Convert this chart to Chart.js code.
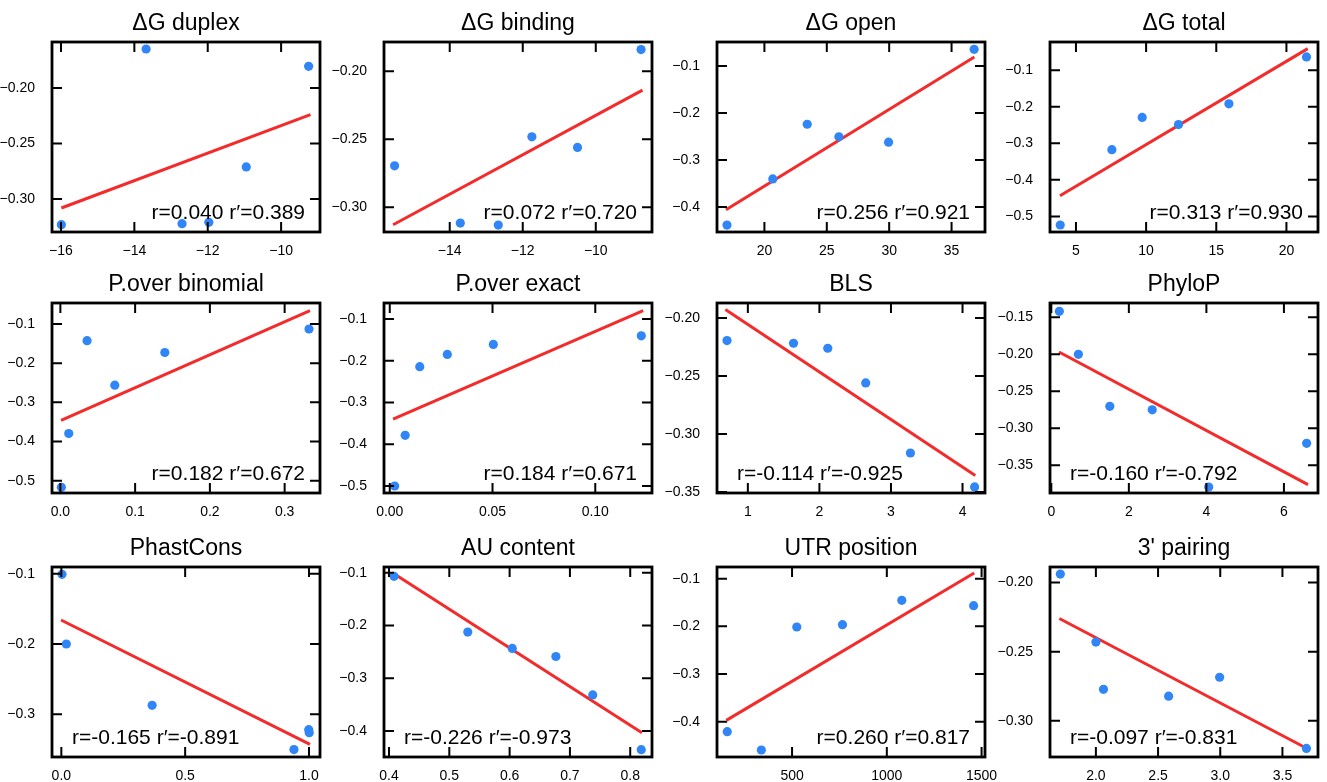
<!DOCTYPE html>
<html>
<head>
<meta charset="utf-8">
<script src="https://cdn.jsdelivr.net/npm/chart.js@4.4.1/dist/chart.umd.min.js"></script>
<style>
  html, body { margin: 0; padding: 0; background: #fff; }
  #grid { position: relative; width: 1327px; height: 782px; overflow: hidden; }
  #grid canvas { position: absolute; }
</style>
</head>
<body>
<div id="grid"></div>
<script>
// feature panels, row by row
const titles = [
  "ΔG duplex", "ΔG binding", "ΔG open", "ΔG total",
  "P.over binomial", "P.over exact", "BLS", "PhyloP",
  "PhastCons", "AU content", "UTR position", "3' pairing",
];

const pointX = [
  [-15.99, -13.68, -12.70, -11.97, -10.95, -9.25],
  [-15.51, -13.71, -12.67, -11.75, -10.50, -8.76],
  [17.0, 20.67, 23.43, 25.97, 29.95, 36.81],
  [3.88, 7.56, 9.72, 12.31, 15.90, 21.43],
  [0.0013, 0.0112, 0.0357, 0.0728, 0.1397, 0.3326],
  [0.0024, 0.0075, 0.0146, 0.0280, 0.0504, 0.1224],
  [0.709, 1.638, 2.117, 2.647, 3.272, 4.169],
  [0.207, 0.698, 1.509, 2.603, 4.06, 6.586],
  [0.0027, 0.0202, 0.3666, 0.9394, 0.999, 1.001],
  [0.4083, 0.5306, 0.6044, 0.6767, 0.7378, 0.8183],
  [158, 338, 525, 766, 1079, 1458],
  [1.714, 2.0, 2.061, 2.585, 2.995, 3.693],
];

const pointY = [
  [-0.3231, -0.1649, -0.3222, -0.3210, -0.2711, -0.1805],
  [-0.2696, -0.3117, -0.3132, -0.2483, -0.2561, -0.1841],
  [-0.4381, -0.3402, -0.2240, -0.2507, -0.2620, -0.0647],
  [-0.5236, -0.3173, -0.2291, -0.2486, -0.1918, -0.0636],
  [-0.5170, -0.3796, -0.1426, -0.2562, -0.1728, -0.1128],
  [-0.5000, -0.3786, -0.2143, -0.1849, -0.1611, -0.1405],
  [-0.2195, -0.2218, -0.2261, -0.2560, -0.3164, -0.3457],
  [-0.1419, -0.2000, -0.2703, -0.2750, -0.3793, -0.3203],
  [-0.1009, -0.2000, -0.2872, -0.3502, -0.3218, -0.3261],
  [-0.1069, -0.2126, -0.2436, -0.2589, -0.3316, -0.4354],
  [-0.4210, -0.4594, -0.2014, -0.1965, -0.1455, -0.1566],
  [-0.1938, -0.2430, -0.2772, -0.2822, -0.2685, -0.3200],
];

// regression line end points
const fitX = [
  [-15.99, -9.20], [-15.55, -8.72], [16.92, 36.83], [3.86, 21.52],
  [0.0009, 0.3339], [0.0016, 0.1233], [0.686, 4.178], [0.198, 6.621],
  [-0.0013, 1.004], [0.4083, 0.8194], [153, 1461], [1.706, 3.690],
];
const fitY = [
  [-0.3081, -0.2240], [-0.3130, -0.2139], [-0.4056, -0.0809], [-0.4436, -0.0409],
  [-0.3460, -0.0660], [-0.3397, -0.0802], [-0.1928, -0.3359], [-0.1968, -0.3761],
  [-0.1659, -0.3427], [-0.1019, -0.4032], [-0.3972, -0.0881], [-0.2260, -0.3197],
];

const corrLabels = [
  "r=0.040 r′=0.389", "r=0.072 r′=0.720", "r=0.256 r′=0.921", "r=0.313 r′=0.930",
  "r=0.182 r′=0.672", "r=0.184 r′=0.671", "r=-0.114 r′=-0.925", "r=-0.160 r′=-0.792",
  "r=-0.165 r′=-0.891", "r=-0.226 r′=-0.973", "r=0.260 r′=0.817", "r=-0.097 r′=-0.831",
];

const xLimits = [
  [-16.245, -8.94], [-15.80, -8.46], [16.20, 37.68], [3.15, 22.25],
  [-0.0112, 0.3473], [-0.0028, 0.1276], [0.569, 4.314], [-0.034, 6.879],
  [-0.0377, 1.0445], [0.3917, 0.8361], [104, 1518], [1.631, 3.786],
];
const yLimits = [
  [-0.3297, -0.1586], [-0.3183, -0.1785], [-0.4529, -0.0492], [-0.5427, -0.0227],
  [-0.5315, -0.0464], [-0.5167, -0.0619], [-0.3509, -0.1871], [-0.3874, -0.1306],
  [-0.3607, -0.0905], [-0.4493, -0.0893], [-0.4741, -0.0755], [-0.3262, -0.1887],
];

const xTicks = [
  [-16, -14, -12, -10], [-14, -12, -10], [20, 25, 30, 35], [5, 10, 15, 20],
  [0, 0.1, 0.2, 0.3], [0, 0.05, 0.1], [1, 2, 3, 4], [0, 2, 4, 6],
  [0, 0.5, 1], [0.4, 0.5, 0.6, 0.7, 0.8], [500, 1000, 1500], [2, 2.5, 3, 3.5],
];
const xDigits = [0, 0, 0, 0, 1, 2, 0, 0, 1, 1, 0, 1];

const yTicks = [
  [-0.30, -0.25, -0.20], [-0.30, -0.25, -0.20], [-0.4, -0.3, -0.2, -0.1], [-0.5, -0.4, -0.3, -0.2, -0.1],
  [-0.5, -0.4, -0.3, -0.2, -0.1], [-0.5, -0.4, -0.3, -0.2, -0.1], [-0.35, -0.30, -0.25, -0.20], [-0.35, -0.30, -0.25, -0.20, -0.15],
  [-0.3, -0.2, -0.1], [-0.4, -0.3, -0.2, -0.1], [-0.4, -0.3, -0.2, -0.1], [-0.30, -0.25, -0.20],
];
const yDigits = [2, 2, 1, 1, 1, 1, 2, 2, 1, 1, 1, 2];

// panel grid (plot box corners in page pixels)
const COL_LEFT = [52, 384, 717, 1050];
const ROW_TOP = [42, 303, 567];
const BOX_W = 268;
const BOX_H = 190;
const Y_AXIS_W = 52;
const TITLE_H = 42;
const X_AXIS_H = 28;

const BLUE = "#3086f6";
const RED = "#f42b2b";
const FONT = '"Liberation Sans", Arial, sans-serif';
const TICK_FONT = { family: FONT, size: 14 };

Chart.defaults.font.family = FONT;
Chart.defaults.font.size = 14;
Chart.defaults.color = "#000";

function fmt(v, digits) {
  return v.toFixed(digits).replace("-", "\u2212");
}

// closed frame, inward ticks on all four sides, and the r / r' note
const frameTicks = {
  id: "frameTicks",
  afterDatasetsDraw(chart, args, opts) {
    const { ctx, chartArea: a, scales: { x, y } } = chart;
    const len = 10;
    ctx.save();

    ctx.font = "21px " + FONT;
    ctx.fillStyle = "#000";
    ctx.textBaseline = "alphabetic";
    if (opts.side === "right") {
      ctx.textAlign = "right";
      ctx.fillText(opts.text, a.right - 15, a.bottom - 13.5);
    } else {
      ctx.textAlign = "left";
      ctx.fillText(opts.text, a.left + 20, a.bottom - 13.5);
    }

    ctx.strokeStyle = "#000";
    ctx.lineWidth = 2;
    ctx.beginPath();
    x.ticks.forEach((t) => {
      const px = x.getPixelForValue(t.value);
      ctx.moveTo(px, a.bottom);
      ctx.lineTo(px, a.bottom - len);
      ctx.moveTo(px, a.top);
      ctx.lineTo(px, a.top + len);
    });
    y.ticks.forEach((t) => {
      const py = y.getPixelForValue(t.value);
      ctx.moveTo(a.left, py);
      ctx.lineTo(a.left + len, py);
      ctx.moveTo(a.right, py);
      ctx.lineTo(a.right - len, py);
    });
    ctx.stroke();

    ctx.lineWidth = 2.8;
    ctx.strokeRect(a.left, a.top, a.right - a.left, a.bottom - a.top);
    ctx.restore();
  },
};

const grid = document.getElementById("grid");

titles.forEach((title, i) => {
  const row = Math.floor(i / 4);
  const col = i % 4;

  const canvas = document.createElement("canvas");
  canvas.width = Y_AXIS_W * 2 + BOX_W;
  canvas.height = TITLE_H + BOX_H + X_AXIS_H;
  canvas.style.left = COL_LEFT[col] - Y_AXIS_W + "px";
  canvas.style.top = ROW_TOP[row] - TITLE_H + "px";
  grid.appendChild(canvas);

  const points = pointX[i].map((x, k) => ({ x, y: pointY[i][k] }));
  const fit = fitX[i].map((x, k) => ({ x, y: fitY[i][k] }));

  new Chart(canvas, {
    type: "scatter",
    data: {
      datasets: [
        {
          data: points,
          backgroundColor: BLUE,
          borderWidth: 0,
          pointRadius: 4.6,
          pointHoverRadius: 4.6,
        },
        {
          data: fit,
          showLine: true,
          borderColor: RED,
          borderWidth: 3,
          pointRadius: 0,
          pointHoverRadius: 0,
        },
      ],
    },
    options: {
      responsive: false,
      animation: false,
      events: [],
      layout: { padding: { left: 0, right: Y_AXIS_W, top: 0, bottom: 0 } },
      plugins: {
        legend: { display: false },
        tooltip: { enabled: false },
        title: {
          display: true,
          fullSize: false,
          text: title,
          color: "#000",
          font: { size: 23, weight: "normal", lineHeight: 1 },
          padding: { top: 12, bottom: 7 },
        },
        frameTicks: {
          text: corrLabels[i],
          side: fitY[i][1] > fitY[i][0] ? "right" : "left",
        },
      },
      scales: {
        x: {
          type: "linear",
          min: xLimits[i][0],
          max: xLimits[i][1],
          grid: { display: false },
          border: { display: false },
          afterBuildTicks: (s) => { s.ticks = xTicks[i].map((v) => ({ value: v })); },
          afterFit: (s) => { s.height = X_AXIS_H; },
          ticks: {
            autoSkip: false,
            maxRotation: 0,
            padding: 3,
            font: TICK_FONT,
            color: "#000",
            callback: (v) => fmt(v, xDigits[i]),
          },
        },
        y: {
          type: "linear",
          min: yLimits[i][0],
          max: yLimits[i][1],
          grid: { display: false },
          border: { display: false },
          afterBuildTicks: (s) => { s.ticks = yTicks[i].map((v) => ({ value: v })); },
          afterFit: (s) => { s.width = Y_AXIS_W; },
          ticks: {
            autoSkip: false,
            padding: 9,
            font: TICK_FONT,
            color: "#000",
            callback: (v) => fmt(v, yDigits[i]),
          },
        },
      },
    },
    plugins: [frameTicks],
  });
});
</script>
</body>
</html>
